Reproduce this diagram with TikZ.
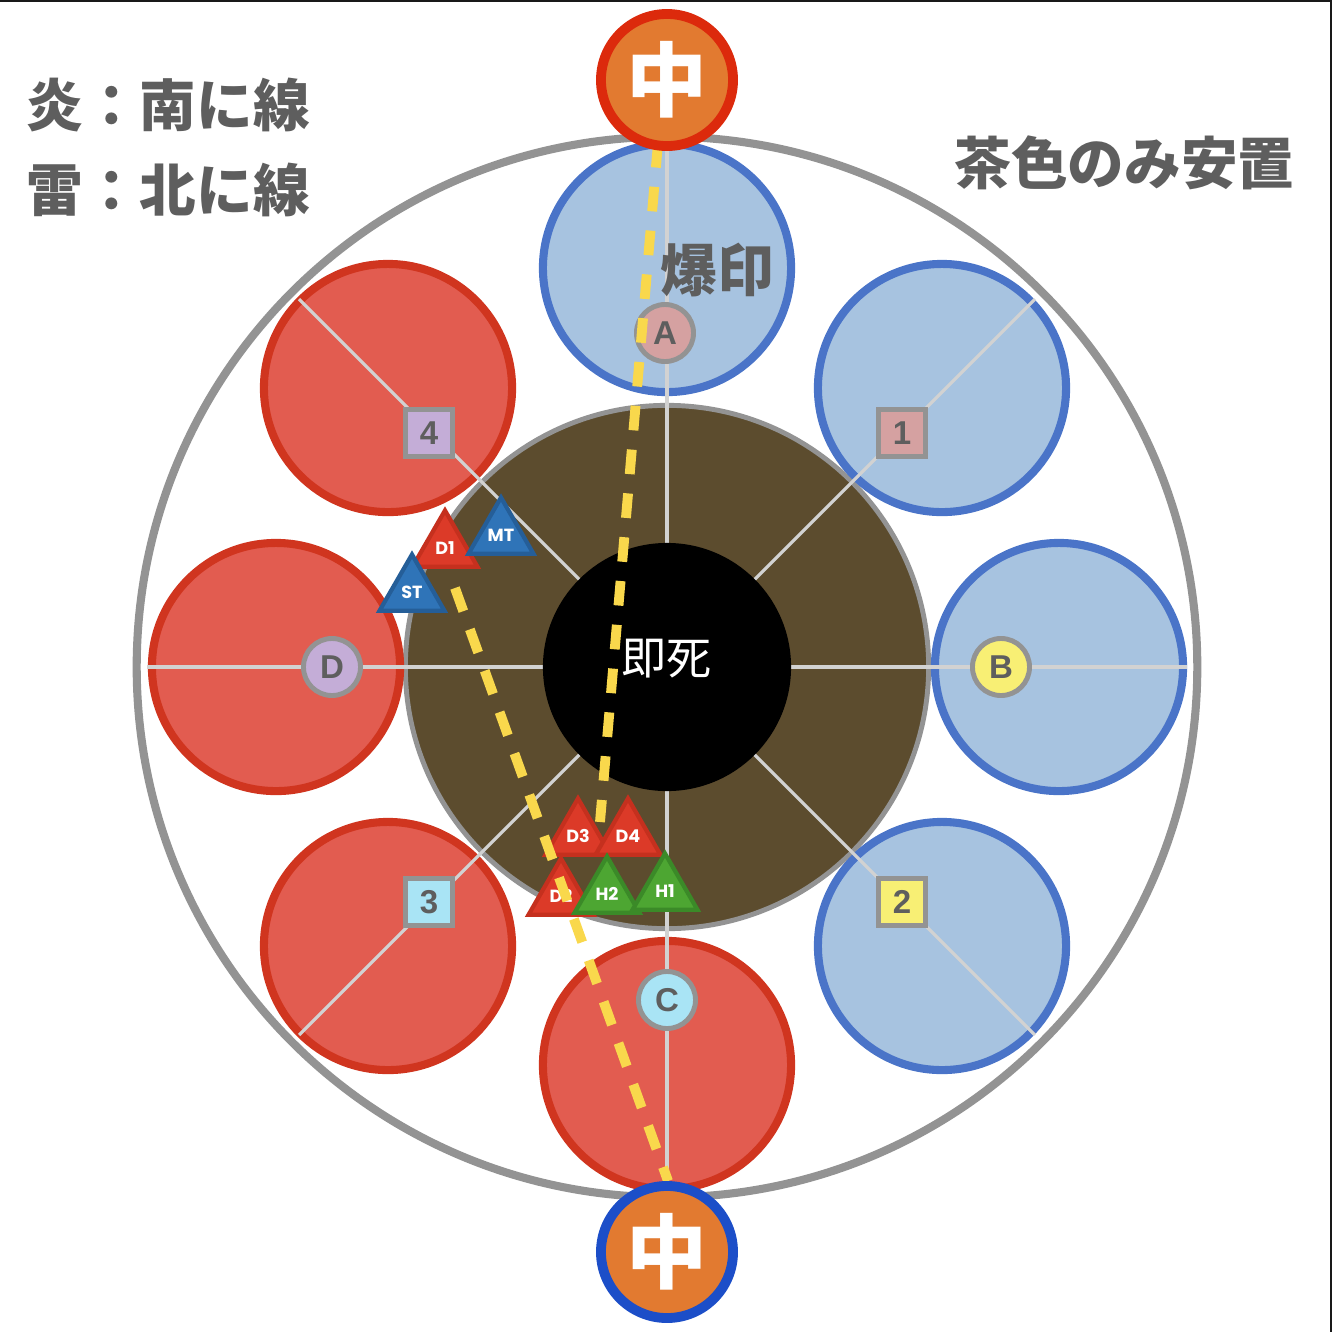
\documentclass[tikz,border=0pt]{standalone}
\usepackage{fontspec}
\setmainfont{Liberation Sans}
\newfontfamily\jpfont{Noto Sans CJK JP}
\newfontfamily\trifont{Poppins}
\usetikzlibrary{shapes.geometric}

\definecolor{ringgray}{HTML}{939393}
\definecolor{spokegray}{HTML}{D2D2D2}
\definecolor{arenabrown}{HTML}{5C4C2E}
\definecolor{lobeblue}{HTML}{A7C3E0}
\definecolor{lobeblueedge}{HTML}{4A74C8}
\definecolor{lobered}{HTML}{E25C50}
\definecolor{loberededge}{HTML}{D0351F}
\definecolor{textgray}{HTML}{5E5E5E}
\definecolor{markpink}{HTML}{D5A1A1}
\definecolor{markyellow}{HTML}{F8EF74}
\definecolor{markcyan}{HTML}{A9E4F5}
\definecolor{marklilac}{HTML}{C4ADD7}
\definecolor{midorange}{HTML}{E27A30}
\definecolor{midred}{HTML}{DC2A0C}
\definecolor{midblue}{HTML}{1C4EC8}
\definecolor{trired}{HTML}{DC3A28}
\definecolor{triredge}{HTML}{C5301E}
\definecolor{triblue}{HTML}{2F74B8}
\definecolor{tribluedge}{HTML}{255E98}
\definecolor{trigreen}{HTML}{4DA632}
\definecolor{trigreenedge}{HTML}{3B8A28}
\definecolor{dashyellow}{HTML}{F9D84C}

\begin{document}
\begin{tikzpicture}[
    x=0.01cm, y=-0.01cm,
    ring/.style     ={draw=ringgray, line width=2.3pt},
    arena/.style    ={circle, draw=ringgray, fill=arenabrown, line width=1.4pt,
                      minimum size=5.23cm, inner sep=0pt},
    bluelobe/.style ={circle, draw=lobeblueedge, fill=lobeblue, line width=2.3pt,
                      minimum size=2.48cm, inner sep=0pt},
    redlobe/.style  ={circle, draw=loberededge, fill=lobered, line width=2.3pt,
                      minimum size=2.48cm, inner sep=0pt},
    spoke/.style    ={draw=spokegray, line width=0.9pt},
    core/.style     ={circle, fill=black, minimum size=2.48cm, inner sep=0pt,
                      text=white, font=\jpfont\fontsize{12.8}{14}\selectfont},
    waymark/.style  ={circle, draw=ringgray, line width=1.4pt, minimum size=0.57cm,
                      inner sep=0pt, text=textgray,
                      font=\bfseries\fontsize{9.4}{10}\selectfont},
    sqmark/.style   ={rectangle, draw=ringgray, line width=1.4pt, minimum size=0.47cm,
                      inner sep=0pt, text=textgray,
                      font=\bfseries\fontsize{9.4}{10}\selectfont},
    jptext/.style   ={inner sep=0pt, text=textgray,
                      font=\jpfont\bfseries\fontsize{16.1}{18}\selectfont},
    mid/.style      ={circle, fill=midorange, line width=2.8pt, minimum size=1.32cm,
                      inner sep=0pt, text=white,
                      font=\jpfont\bfseries\fontsize{23}{26}\selectfont},
    tri/.style      ={regular polygon, regular polygon sides=3, minimum size=0.75cm,
                      inner sep=0pt, line width=1.2pt, text=white,
                      font=\trifont\bfseries\fontsize{5}{5}\selectfont},
    dps/.style      ={tri, fill=trired, draw=triredge},
    tank/.style     ={tri, fill=triblue, draw=tribluedge},
    healer/.style   ={tri, fill=trigreen, draw=trigreenedge},
    line/.style     ={draw=dashyellow, line width=2.8pt, dash pattern=on 7pt off 5.5pt},
]
\useasboundingbox (0,0) rectangle (1332,1332);

% ── Frame edges ──────────────────────────────────────────────
\draw[black!90, line width=0.7pt] (0,1) -- (1331,1) -- (1331,1332);

% ── Arena ────────────────────────────────────────────────────
\coordinate (ctr) at (667,667);
\draw[ring] (ctr) circle[radius=5.30cm];
\node[arena] (inner) at (ctr) {};

% ── Lobes: blue on the right, red on the left ────────────────
\node[bluelobe] (lobeA) at (667,268)  {};
\node[bluelobe] (lobe1) at (942,388)  {};
\node[bluelobe] (lobeB) at (1059,667) {};
\node[bluelobe] (lobe2) at (942,946)  {};
\node[redlobe]  (lobeC) at (667,1065) {};
\node[redlobe]  (lobe3) at (388,946)  {};
\node[redlobe]  (lobeD) at (276,667)  {};
\node[redlobe]  (lobe4) at (388,388)  {};

% spokes
\foreach \a in {0,45,...,315}
    \draw[spoke] (ctr) -- ++(\a:5.2cm);

\node[core] (death) at (ctr) {\raisebox{0.8ex}{即死}};

% ── Waymarks ─────────────────────────────────────────────────
\node[waymark, fill=markpink]   (mA) at (665,333)  {A};
\node[waymark, fill=markyellow] (mB) at (1001,667) {B};
\node[waymark, fill=markcyan]   (mC) at (667,1000) {C};
\node[waymark, fill=marklilac]  (mD) at (332,667)  {D};
\node[sqmark,  fill=markpink]   (m1) at (902,433)  {1};
\node[sqmark,  fill=markyellow] (m2) at (902,902)  {2};
\node[sqmark,  fill=markcyan]   (m3) at (429,902)  {3};
\node[sqmark,  fill=marklilac]  (m4) at (429,433)  {4};

% ── Texts ────────────────────────────────────────────────────
\node[jptext, anchor=west] (rule1) at (26,105)   {炎：南に線};
\node[jptext, anchor=west] (rule2) at (26,190)   {雷：北に線};
\node[jptext, anchor=east] (safe)  at (1295,163) {茶色のみ安置};
\node[jptext]              (bomb)  at (717,270)  {爆印};

% ── Party ────────────────────────────────────────────────────
\node[dps]    (d1) at (445,548) {D1};
\node[tank]   (mt) at (501,535) {MT};
\node[tank]   (st) at (412,592) {ST};
\node[dps]    (d3) at (578,836) {D3};
\node[dps]    (d4) at (628,836) {D4};
\node[dps]    (d2) at (561,896) {D2};
\node[healer] (h2) at (607,894) {H2};
\node[healer] (h1) at (665,891) {H1};

% ── Tethers ──────────────────────────────────────────────────
\coordinate (t1a) at (658,143);
\coordinate (t1b) at (600,822);
\coordinate (t2a) at (455,588);
\coordinate (t2b) at (668,1181);
\draw[line] (t1a) -- (t1b);
\draw[line] (t2a) -- (t2b);

% ── Centre markers ───────────────────────────────────────────
\node[mid, draw=midred]  (midN) at (667,80)   {中};
\node[mid, draw=midblue] (midS) at (667,1252) {中};

\end{tikzpicture}
\end{document}
